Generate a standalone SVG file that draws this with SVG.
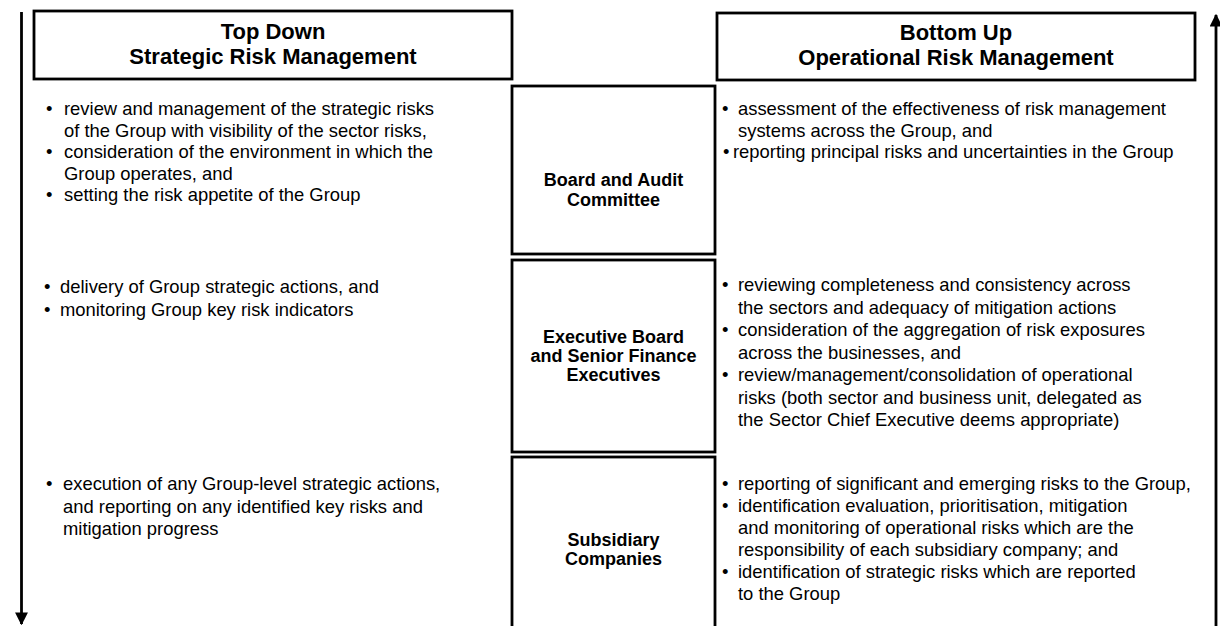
<svg xmlns="http://www.w3.org/2000/svg" width="1220" height="626" viewBox="0 0 1220 626">
<style>
.box{fill:none;stroke:#000;stroke-width:2.8}
.hd{font-family:"Liberation Sans",Arial,sans-serif;font-weight:bold;font-size:22px;fill:#000;text-anchor:middle}
.lb{font-family:"Liberation Sans",Arial,sans-serif;font-weight:bold;font-size:18px;fill:#000;text-anchor:middle}
.tx{font-family:"Liberation Sans",Arial,sans-serif;font-size:18.4px;fill:#000}
.ln{stroke:#000;stroke-width:2.8;fill:none}
</style>
<defs>
<marker id="ah" viewBox="0 0 10 10" refX="9" refY="5" markerWidth="4.6" markerHeight="4.6" markerUnits="strokeWidth" orient="auto">
<path d="M0,0 L10,5 L0,10 Z" fill="#000"/>
</marker>
</defs>
<rect width="1220" height="626" fill="#fff"/>
<g id="connectors">
<line class="ln" x1="21.5" y1="12" x2="21.5" y2="624" marker-end="url(#ah)"/>
<line class="ln" x1="1216" y1="626" x2="1216" y2="15" marker-end="url(#ah)"/>
</g>
<g id="top-down">
<rect class="box" x="34" y="11" width="478" height="68"/>
<text class="hd" x="273" y="39">Top Down</text>
<text class="hd" x="273" y="64">Strategic Risk Management</text>
</g>
<g id="bottom-up">
<rect class="box" x="717" y="13" width="478" height="67"/>
<text class="hd" x="956" y="40">Bottom Up</text>
<text class="hd" x="956" y="65">Operational Risk Management</text>
</g>
<g id="board">
<rect class="box" x="512" y="86" width="203" height="168"/>
<text class="lb" x="613.5" y="186">Board and Audit</text>
<text class="lb" x="613.5" y="206">Committee</text>
</g>
<g id="executive">
<rect class="box" x="512" y="260" width="203" height="192"/>
<text class="lb" x="613.5" y="343">Executive Board</text>
<text class="lb" x="613.5" y="362">and Senior Finance</text>
<text class="lb" x="613.5" y="381">Executives</text>
</g>
<g id="subsidiary">
<rect class="box" x="512" y="457" width="203" height="180"/>
<text class="lb" x="613.5" y="546">Subsidiary</text>
<text class="lb" x="613.5" y="565">Companies</text>
</g>
<g id="board-strategic">
<text class="tx" x="46" y="115">•</text>
<text class="tx" x="64" y="115">review and management of the strategic risks</text>
<text class="tx" x="64" y="136.5">of the Group with visibility of the sector risks,</text>
<text class="tx" x="46" y="158">•</text>
<text class="tx" x="64" y="158">consideration of the environment in which the</text>
<text class="tx" x="64" y="179.5">Group operates, and</text>
<text class="tx" x="46" y="201">•</text>
<text class="tx" x="64" y="201">setting the risk appetite of the Group</text>
</g>
<g id="board-operational">
<text class="tx" x="722" y="115">•</text>
<text class="tx" x="738" y="115">assessment of the effectiveness of risk management</text>
<text class="tx" x="738" y="136.5">systems across the Group, and</text>
<text class="tx" x="723" y="158">•</text>
<text class="tx" x="733" y="158">reporting principal risks and uncertainties in the Group</text>
</g>
<g id="executive-strategic">
<text class="tx" x="44" y="293">•</text>
<text class="tx" x="60" y="293">delivery of Group strategic actions, and</text>
<text class="tx" x="44" y="316">•</text>
<text class="tx" x="60" y="316">monitoring Group key risk indicators</text>
</g>
<g id="executive-operational">
<text class="tx" x="722" y="291">•</text>
<text class="tx" x="738" y="291">reviewing completeness and consistency across</text>
<text class="tx" x="738" y="313.5">the sectors and adequacy of mitigation actions</text>
<text class="tx" x="722" y="336">•</text>
<text class="tx" x="738" y="336">consideration of the aggregation of risk exposures</text>
<text class="tx" x="738" y="358.5">across the businesses, and</text>
<text class="tx" x="722" y="381">•</text>
<text class="tx" x="738" y="381">review/management/consolidation of operational</text>
<text class="tx" x="738" y="403.5">risks (both sector and business unit, delegated as</text>
<text class="tx" x="738" y="426">the Sector Chief Executive deems appropriate)</text>
</g>
<g id="subsidiary-strategic">
<text class="tx" x="46" y="490">•</text>
<text class="tx" x="63" y="490">execution of any Group-level strategic actions,</text>
<text class="tx" x="63" y="512.5">and reporting on any identified key risks and</text>
<text class="tx" x="63" y="535">mitigation progress</text>
</g>
<g id="subsidiary-operational">
<text class="tx" x="722" y="490">•</text>
<text class="tx" x="738" y="490">reporting of significant and emerging risks to the Group,</text>
<text class="tx" x="722" y="512">•</text>
<text class="tx" x="738" y="512">identification  evaluation, prioritisation, mitigation</text>
<text class="tx" x="738" y="534">and monitoring of operational risks which are the</text>
<text class="tx" x="738" y="556">responsibility of each subsidiary company; and</text>
<text class="tx" x="722" y="578">•</text>
<text class="tx" x="738" y="578">identification of strategic risks which are reported</text>
<text class="tx" x="738" y="600">to the Group</text>
</g>
</svg>
